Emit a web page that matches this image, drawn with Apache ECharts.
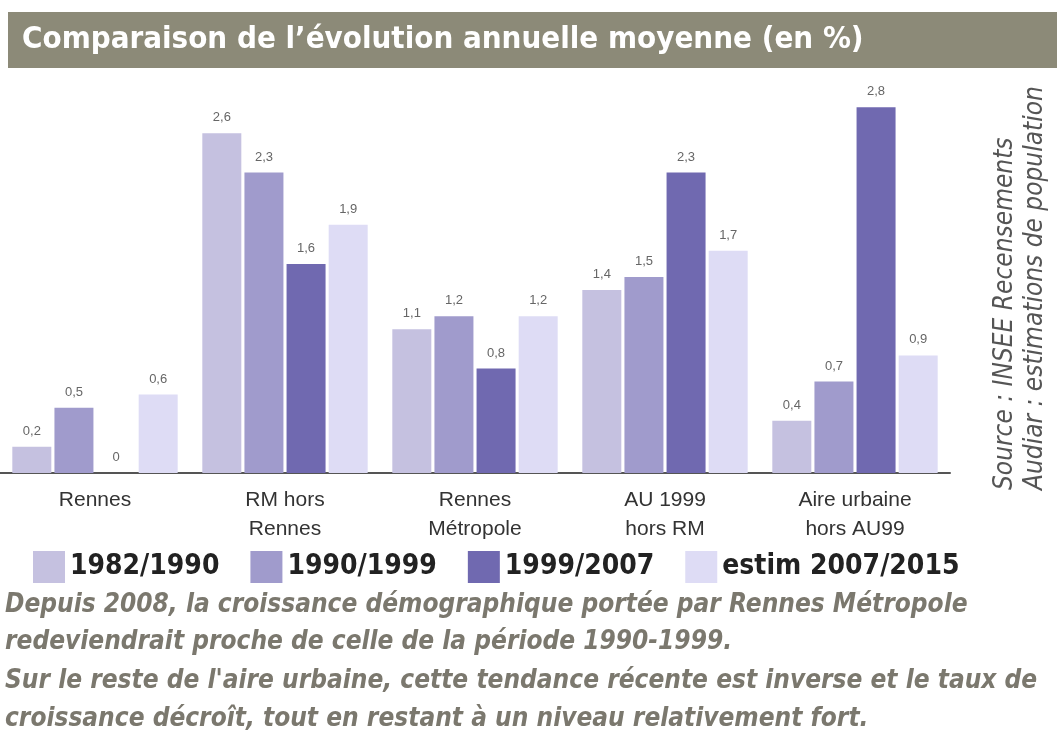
<!DOCTYPE html>
<html>
<head>
<meta charset="utf-8">
<script src="https://cdn.jsdelivr.net/npm/echarts@6/dist/echarts.min.js"></script>
<style>
  html, body { margin: 0; padding: 0; background: #fff; }
  #chart { width: 1057px; height: 745px; }
</style>
</head>
<body>
<div id="chart"></div>
<script>
  // données
  var categories = ['Rennes', 'RM hors\nRennes', 'Rennes\nMétropole', 'AU 1999\nhors RM', 'Aire urbaine\nhors AU99'];
  var periods = ['1982/1990', '1990/1999', '1999/2007', 'estim 2007/2015'];
  var v1982 = [0.2, 2.6, 1.1, 1.4, 0.4];
  var v1990 = [0.5, 2.3, 1.2, 1.5, 0.7];
  var v1999 = [0, 1.6, 0.8, 2.3, 2.8];
  var vEstim = [0.6, 1.9, 1.2, 1.7, 0.9];
  var colors = ['#c5c1e0', '#a09bcc', '#7069b0', '#dedcf5'];

  var narrow = '"Liberation Sans Narrow", "DejaVu Sans Condensed", "Liberation Sans", sans-serif';

  var chart = echarts.init(document.getElementById('chart'));

  function bar(name, data, i) {
    return {
      name: name,
      type: 'bar',
      data: data,
      barWidth: 39,
      barGap: '8%',
      itemStyle: { color: colors[i] },
      label: {
        show: true,
        position: 'top',
        distance: 9,
        color: '#666',
        fontSize: 13,
        fontFamily: 'Liberation Sans, Arial, sans-serif',
        formatter: function (p) { return String(p.value).replace('.', ','); }
      }
    };
  }

  chart.setOption({
    animation: false,
    color: colors,
    grid: { left: 0, top: 81, width: 950, height: 392 },
    legend: {
      left: 28,
      top: 546,
      itemWidth: 32,
      itemHeight: 32,
      itemGap: 31,
      icon: 'rect',
      textStyle: { fontSize: 28, fontWeight: 'bold', color: '#222', fontFamily: narrow },
      data: periods
    },
    xAxis: {
      type: 'category',
      data: categories,
      axisTick: { show: false },
      axisLine: { lineStyle: { color: '#555', width: 2 } },
      axisLabel: {
        color: '#333',
        fontSize: 21,
        lineHeight: 29,
        margin: 13,
        fontFamily: 'Liberation Sans, Arial, sans-serif'
      }
    },
    yAxis: {
      type: 'value',
      min: 0,
      max: 3,
      show: false,
      splitLine: { show: false }
    },
    series: [
      bar(periods[0], v1982, 0),
      bar(periods[1], v1990, 1),
      bar(periods[2], v1999, 2),
      bar(periods[3], vEstim, 3)
    ],
    graphic: [
      {
        type: 'rect',
        shape: { x: 8, y: 12, width: 1049, height: 56 },
        style: { fill: '#8c8a78' },
        z: 0
      },
      {
        type: 'text',
        x: 22, y: 40,
        style: {
          text: 'Comparaison de l\u2019évolution annuelle moyenne (en %)',
          fill: '#fff',
          font: 'bold 31px ' + narrow,
          verticalAlign: 'middle'
        }
      },
      {
        type: 'text',
        x: 1005, y: 490, rotation: Math.PI / 2,
        style: {
          text: 'Source : INSEE Recensements',
          fill: '#555',
          font: 'italic 26px ' + narrow,
          verticalAlign: 'middle'
        }
      },
      {
        type: 'text',
        x: 1035, y: 490, rotation: Math.PI / 2,
        style: {
          text: 'Audiar : estimations de population',
          fill: '#555',
          font: 'italic 26px ' + narrow,
          verticalAlign: 'middle'
        }
      },
      {
        type: 'text',
        x: 5, y: 605,
        style: {
          text: 'Depuis 2008, la croissance démographique portée par Rennes Métropole',
          fill: '#7b786e',
          font: 'italic bold 26px ' + narrow,
          verticalAlign: 'middle'
        }
      },
      {
        type: 'text',
        x: 5, y: 642,
        style: {
          text: 'redeviendrait proche de celle de la période 1990-1999.',
          fill: '#7b786e',
          font: 'italic bold 26px ' + narrow,
          verticalAlign: 'middle'
        }
      },
      {
        type: 'text',
        x: 5, y: 681,
        style: {
          text: 'Sur le reste de l\'aire urbaine, cette tendance récente est inverse et le taux de',
          fill: '#7b786e',
          font: 'italic bold 26px ' + narrow,
          verticalAlign: 'middle'
        }
      },
      {
        type: 'text',
        x: 5, y: 719,
        style: {
          text: 'croissance décroît, tout en restant à un niveau relativement fort.',
          fill: '#7b786e',
          font: 'italic bold 26px ' + narrow,
          verticalAlign: 'middle'
        }
      }
    ]
  });
</script>
</body>
</html>
